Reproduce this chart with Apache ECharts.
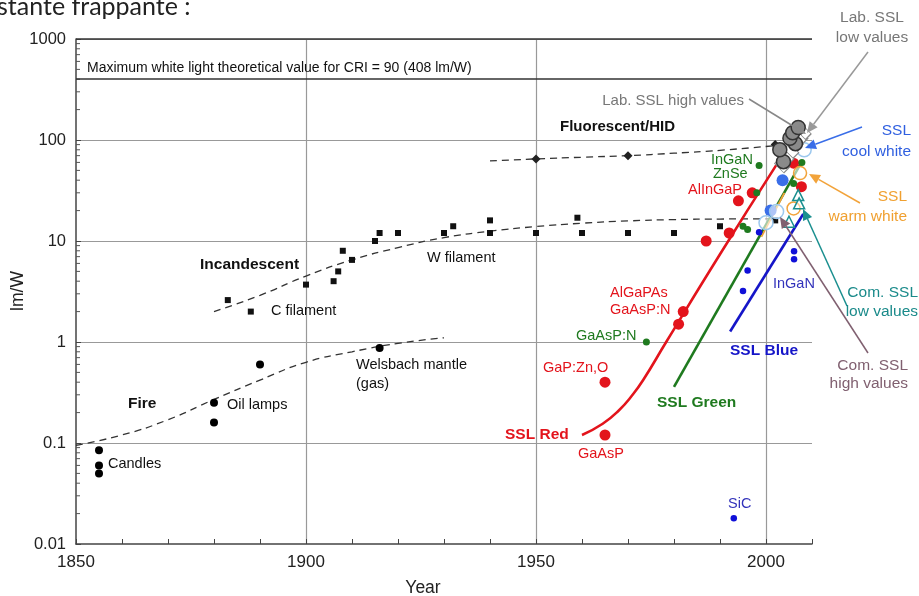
<!DOCTYPE html>
<html><head><meta charset="utf-8">
<script src="https://cdn.jsdelivr.net/npm/echarts@6/dist/echarts.min.js"></script>
<style>html,body{margin:0;padding:0;background:#fff;overflow:hidden}#c{width:919px;height:596px}</style>
</head><body><div id="c"></div><script>
// ---------- data (year, lm/W) ----------
const fireDots = [[1855,0.085],[1855,0.06],[1855,0.05],[1880,0.25],[1880,0.16],[1890,0.6],[1916,0.87]];
const fireCurve = [[1850,0.095],[1860,0.12],[1870,0.17],[1880,0.27],[1890,0.42],[1900,0.63],[1910,0.8],[1920,0.97],[1930,1.1]];
const incSquares = [[1883,2.6],[1888,2.0],[1900,3.7],[1906,4.0],[1907,5.0],[1908,8.0],[1910,6.5],[1915,10],[1916,12],[1920,12],[1930,12],[1932,14],[1940,16],[1940,12],[1950,12],[1959,17],[1960,12],[1970,12],[1980,12],[1990,14],[2002,16]];
const incCurve = [[1880,2.0],[1890,2.9],[1900,4.5],[1910,6.5],[1920,8.6],[1930,10.8],[1940,12.5],[1950,13.9],[1960,15],[1970,15.8],[1980,16.3],[1990,16.5],[2001,16.6]];
const fluorDiamonds = [[1950,65],[1970,70],[2002,90]];
const fluorCurve = [[1940,62],[1950,65],[1960,67.5],[1970,70],[1980,74],[1990,79],[2002,88]];
const sslRedLine = [[1960,0.12],[1964.5,0.155],[1968,0.21],[1971,0.3],[1973.3,0.42],[1978.3,1.0],[1990,7.4],[2002.3,57]];
const sslGreenLine = [[1980,0.36],[2007.7,60]];
const sslBlueLine = [[1992.2,1.27],[2008.1,18.5]];
const warmWhiteLine = [[1999,11],[2004,30]];
const redDots = [[1965,0.12],[1965,0.4],[1981,1.5],[1982,2.0],[1987,10],[1992,12],[1994,25],[1997,30],[2006,59],[2007.7,34.5]];
const greenDots = [[1974,1.0],[1995,14],[1996,13],[1998,30],[1998.5,56],[2006,37],[2007.8,60]];
const blueDots = [[1993,0.018],[1995,3.2],[1996,5.1],[1998.5,12.2],[2006.1,7.9],[2006.1,6.6]];
const blueBigDots = [[2001,20],[2003.6,40]];
const labLow = [[2003.5,56],[2004.5,68],[2005.5,78],[2006.5,95],[2007.5,108],[2008.2,120]];
const labHigh = [[2003.8,61],[2003,80],[2006.4,92],[2005.2,104],[2005.8,118],[2007,133]];
const coolWhite = [[2000,15.2],[2002.3,19.6],[2008.3,80]];
const warmWhite = [[2007.4,47],[2006,21]];
const comLow = [[2007,28.5],[2007.2,23.6],[2005,15.5]];
const yMinorTicks = [];
[-2,-1,0,1,2].forEach(k => { for (let m = 2; m <= 9; m++) yMinorTicks.push([1850, +(m*Math.pow(10,k)).toPrecision(2)]); });
const xTicks = ['1850','1900','1950','2000'];
const yTicks = ['0.01','0.1','1','10','100','1000'];

// ---------- chart ----------
const chart = echarts.init(document.getElementById('c'), null, {renderer:'canvas'});
const F = '"Liberation Sans", Arial, sans-serif';
const RED = '#e3141c', GREEN = '#1f7a1f', BLUE = '#1515c8';
function dots(data, symbol, size, color, extra) {
  const base = {type:'scatter', data, symbol, symbolSize:size, itemStyle:{color, opacity:1}, animation:false, silent:true, z:5};
  const s = Object.assign(base, extra||{});
  s.itemStyle = Object.assign({opacity:1}, s.itemStyle);
  return s;
}
function curve(data, color, width, dashed, extra) {
  return Object.assign({type:'line', data, smooth:true, showSymbol:false, symbol:'none', animation:false, silent:true,
    lineStyle:{color, width, type: dashed ? [7,5] : 'solid'}, z:3}, extra||{});
}
const option = {
  backgroundColor:'#fff',
  animation:false,
  grid:{left:76, right:107, top:39, bottom:52},
  xAxis:[{
    type:'value', min:1850, max:2010, interval:50, position:'bottom',
    axisLine:{show:true, lineStyle:{color:'#444', width:1.5}},
    axisTick:{show:false},
    axisLabel:{color:'#222', fontSize:17, fontFamily:F, margin:10,
      formatter: v => xTicks.indexOf(String(v)) >= 0 ? String(v) : ''},
    splitLine:{show:true, showMinLine:false, showMaxLine:false, lineStyle:{color:'#999', width:1.2}}
  },{
    type:'value', min:1850, max:2010, interval:10, position:'bottom', offset:0,
    axisLine:{show:false}, axisTick:{show:true, inside:true, length:5, lineStyle:{color:'#444', width:1}},
    axisLabel:{show:false}, splitLine:{show:false}
  }],
  yAxis:{
    type:'log', logBase:10, min:0.01, max:1000,
    axisLine:{show:true, lineStyle:{color:'#444', width:1.5}},
    axisTick:{show:true, inside:true, length:5, lineStyle:{color:'#444'}},
    axisLabel:{color:'#222', fontSize:16.5, fontFamily:F, margin:10,
      formatter: v => { const s = v >= 1 ? String(Math.round(v)) : String(+(+v).toPrecision(1)); return yTicks.indexOf(s) >= 0 ? s : ''; }},
    splitLine:{show:true, showMinLine:false, lineStyle:{color:'#999', width:1.2}}
  },
  series:[
    {type:'custom', data:yMinorTicks, silent:true, animation:false, z:2,
      renderItem:(params, api) => { const p = api.coord([api.value(0), api.value(1)]);
        return {type:'line', shape:{x1:p[0], y1:p[1], x2:p[0]+4, y2:p[1]}, style:{stroke:'#555', lineWidth:1}}; }},
    curve(fireCurve, '#333', 1.3, true, {markLine:{silent:true, symbol:['none','none'], animation:false, label:{show:false},
      lineStyle:{color:'#333', width:1.6, type:'solid'}, data:[{yAxis:408},{yAxis:1000}]}}),
    curve(incCurve, '#333', 1.3, true),
    curve(fluorCurve, '#333', 1.3, true),
    curve(sslRedLine, RED, 2.6, false),
    curve(sslGreenLine, GREEN, 2.6, false, {smooth:false}),
    curve(sslBlueLine, BLUE, 2.6, false, {smooth:false}),
    curve(warmWhiteLine, '#f2a33a', 1.8, false, {smooth:false}),
    dots(fireDots, 'circle', 8, '#000'),
    dots(incSquares, 'rect', 6, '#111'),
    dots(fluorDiamonds, 'diamond', 9, '#222'),
    dots(redDots, 'circle', 11, RED),
    dots(greenDots, 'circle', 7, GREEN),
    dots(blueDots, 'circle', 6.5, '#1010d8'),
    dots(blueBigDots, 'circle', 12, '#3a6ee8'),
    dots(coolWhite, 'circle', 14, '#fff', {itemStyle:{color:'rgba(255,255,255,0.6)', borderColor:'#9cc8ee', borderWidth:1.5}}),
    dots(warmWhite, 'circle', 13, '#fff', {itemStyle:{color:'rgba(255,255,255,0.6)', borderColor:'#f2a33a', borderWidth:1.5}}),
    dots(comLow, 'triangle', 11, '#fff', {itemStyle:{color:'rgba(255,255,255,0.5)', borderColor:'#1a8f8f', borderWidth:1.5}}),
    dots(labLow, 'rect', [13,8], '#fff', {symbolRotate:-45, itemStyle:{color:'#fff', borderColor:'#888', borderWidth:1}, z:6}),
    dots(labHigh, 'circle', 14, '#888', {itemStyle:{color:'#8a8a8a', borderColor:'#333', borderWidth:1.5}, z:7})
  ]
};
chart.setOption(option);

// ---------- annotations ----------
function T(text, x, y, o) {
  o = o || {};
  return {type:'text', silent:true, z:20, style:{text, x, y, fill:o.c||'#111',
    font:(o.b?'bold ':'') + (o.s||14.5) + 'px ' + F, align:o.a||'left', textAlign:o.a||'left',
    verticalAlign:o.v||'middle', textVerticalAlign:o.v||'middle'}};
}
function arrow(x1, y1, x2, y2, color) {
  const a = Math.atan2(y2-y1, x2-x1), L = 11, W = 5;
  const bx = x2 - L*Math.cos(a), by = y2 - L*Math.sin(a);
  return [
    {type:'line', silent:true, z:19, shape:{x1, y1, x2:bx, y2:by}, style:{stroke:color, lineWidth:1.5}},
    {type:'polygon', silent:true, z:19, shape:{points:[[x2,y2],[bx+W*Math.sin(a), by-W*Math.cos(a)],[bx-W*Math.sin(a), by+W*Math.cos(a)]]}, style:{fill:color}}
  ];
}
const g = [
  {type:'text', silent:true, z:20, style:{text:'stante frappante :', x:-3, y:19, fill:'#222', font:'25px Lato, "Open Sans", sans-serif', verticalAlign:'bottom', textVerticalAlign:'bottom'}},
  T('Maximum white light theoretical value for CRI = 90 (408 lm/W)', 87, 68, {s:14}),
  T('Fluorescent/HID', 560, 127, {b:1, s:15}),
  T('Incandescent', 200, 265, {b:1, s:15.5}),
  T('W filament', 427, 258),
  T('C filament', 271, 311),
  T('Welsbach mantle', 356, 365),
  T('(gas)', 356, 384),
  T('Fire', 128, 404, {b:1, s:15.5}),
  T('Oil lamps', 227, 405),
  T('Candles', 108, 464),
  T('InGaN', 711, 160, {c:GREEN}),
  T('ZnSe', 713, 174, {c:GREEN}),
  T('AlInGaP', 688, 190, {c:RED}),
  T('AlGaPAs', 610, 293, {c:RED}),
  T('GaAsP:N', 610, 310, {c:RED}),
  T('GaAsP:N', 576, 336, {c:GREEN}),
  T('GaP:Zn,O', 543, 368, {c:RED}),
  T('SSL Red', 505, 435, {b:1, s:15.5, c:RED}),
  T('GaAsP', 578, 454, {c:RED}),
  T('SSL Green', 657, 403, {b:1, s:15.5, c:GREEN}),
  T('SSL Blue', 730, 351, {b:1, s:15.5, c:BLUE}),
  T('InGaN', 773, 284, {c:'#3333bb'}),
  T('SiC', 728, 504, {c:'#3333bb'}),
  T('Lab. SSL high values', 744, 101, {c:'#777', s:15, a:'right'}),
  T('Lab. SSL', 872, 18, {c:'#777', s:15.5, a:'center'}),
  T('low values', 872, 38, {c:'#777', s:15.5, a:'center'}),
  T('SSL', 911, 131, {c:'#2f5fe0', s:15.5, a:'right'}),
  T('cool white', 911, 152, {c:'#2f5fe0', s:15.5, a:'right'}),
  T('SSL', 907, 197, {c:'#f0a030', s:15.5, a:'right'}),
  T('warm white', 907, 217, {c:'#f0a030', s:15.5, a:'right'}),
  T('Com. SSL', 918, 293, {c:'#1a8a8a', s:15.5, a:'right'}),
  T('low values', 918, 312, {c:'#1a8a8a', s:15.5, a:'right'}),
  T('Com. SSL', 908, 366, {c:'#806070', s:15.5, a:'right'}),
  T('high values', 908, 384, {c:'#806070', s:15.5, a:'right'}),
  {type:'text', silent:true, z:20, x:18, y:291, rotation:Math.PI/2,
    style:{text:'lm/W', x:0, y:0, fill:'#222', font:'17.5px ' + F, align:'center', textAlign:'center', verticalAlign:'middle', textVerticalAlign:'middle'}},
  T('Year', 423, 588, {s:17.5, a:'center', c:'#222'})
].concat(
  arrow(868, 52, 807, 133, '#999'),
  arrow(749, 99, 806, 134, '#888'),
  arrow(862, 127, 805, 148, '#3a6ee8'),
  arrow(860, 203, 809, 174, '#f2a33a'),
  arrow(847, 306, 803, 209, '#1a8f8f'),
  arrow(868, 353, 780, 217, '#806070')
);
chart.setOption({graphic:{elements:g}});
</script></body></html>
